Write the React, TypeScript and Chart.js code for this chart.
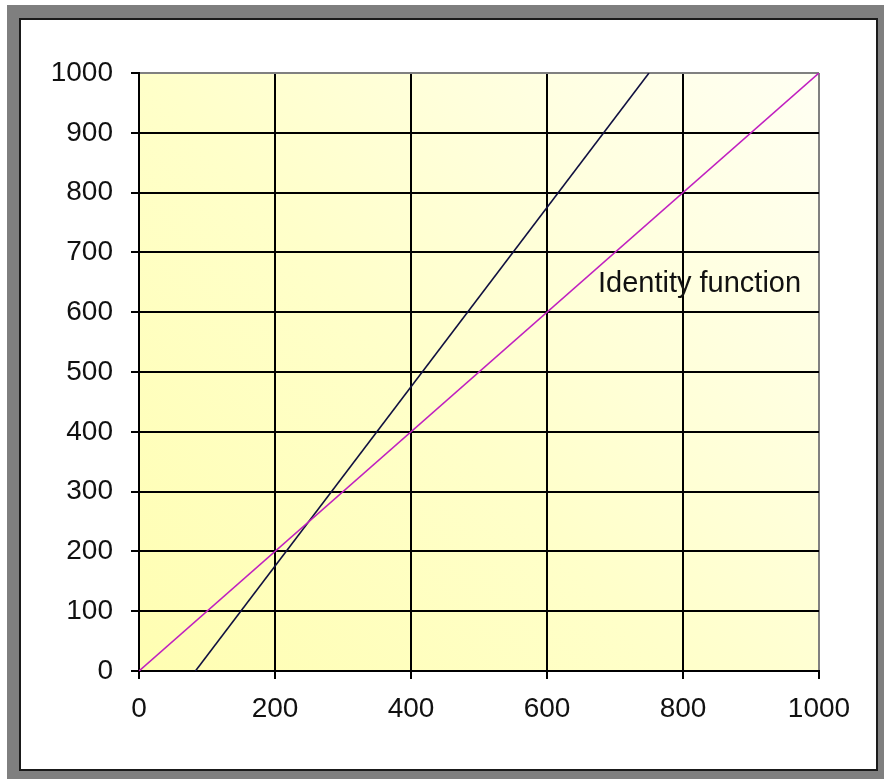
import React, { useEffect, useRef } from "react";
import { Chart, registerables } from "chart.js";

Chart.register(...registerables);

// Identity function y = x
const identityX = [0, 1000];
const identityY = [0, 1000];
// Steeper dark line
const steepX = [83, 750];
const steepY = [0, 1000];

const xTickMin = 0;
const xTickMax = 1000;
const xTickStep = 200;
const yTickMin = 0;
const yTickMax = 1000;
const yTickStep = 100;

const labelText = "Identity function";
const labelPosX = 675;
const labelPosY = 647;

const FONT = "'Liberation Sans', Arial, sans-serif";

const bgPlugin = {
  id: "plotBg",
  beforeDraw(chart: any) {
    const { ctx, chartArea } = chart;
    if (!chartArea) return;
    const { left, top, right, bottom } = chartArea;
    const g = ctx.createLinearGradient(left, bottom, right, top);
    g.addColorStop(0, "#FFFEB2");
    g.addColorStop(0.45, "#FFFFCA");
    g.addColorStop(1, "#FFFFF3");
    ctx.save();
    ctx.fillStyle = g;
    ctx.fillRect(left, top, right - left, bottom - top);
    ctx.restore();
  },
};

const labelPlugin = {
  id: "identityLabel",
  afterDatasetsDraw(chart: any) {
    const { ctx, scales } = chart;
    const x = scales.x.getPixelForValue(labelPosX);
    const y = scales.y.getPixelForValue(labelPosY);
    ctx.save();
    ctx.font = `29px ${FONT}`;
    ctx.fillStyle = "#111";
    ctx.textAlign = "left";
    ctx.textBaseline = "middle";
    ctx.fillText(labelText, x, y);
    ctx.restore();
  },
};

export default function App() {
  const ref = useRef<HTMLCanvasElement | null>(null);

  useEffect(() => {
    if (!ref.current) return;
    const chart = new Chart(ref.current, {
      type: "scatter",
      data: {
        datasets: [
          {
            label: "Identity",
            data: identityX.map((x, i) => ({ x, y: identityY[i] })),
            showLine: true,
            borderColor: "#C020C0",
            borderWidth: 1.6,
            pointRadius: 0,
            fill: false,
          },
          {
            label: "Steep",
            data: steepX.map((x, i) => ({ x, y: steepY[i] })),
            showLine: true,
            borderColor: "#101040",
            borderWidth: 1.6,
            pointRadius: 0,
            fill: false,
          },
        ],
      },
      options: {
        animation: false,
        responsive: false,
        devicePixelRatio: 1,
        layout: { padding: { left: 0, top: 73, right: 65, bottom: 0 } },
        plugins: {
          legend: { display: false },
          tooltip: { enabled: false },
        },
        scales: {
          x: {
            type: "linear",
            min: xTickMin,
            max: xTickMax,
            afterFit: (s: any) => {
              s.height = 108;
            },
            ticks: {
              stepSize: xTickStep,
              color: "#111",
              font: { family: FONT, size: 28 },
              padding: 13,
              maxRotation: 0,
              callback: (v: any) => String(v),
            },
            grid: {
              color: (c: any) => (c.tick && c.tick.value === xTickMax ? "#808080" : "#000"),
              tickColor: "#000",
              lineWidth: 2,
              tickLength: 8,
            },
            border: { color: "#000", width: 2 },
          },
          y: {
            type: "linear",
            min: yTickMin,
            max: yTickMax,
            afterFit: (s: any) => {
              s.width = 139;
            },
            ticks: {
              stepSize: yTickStep,
              color: "#111",
              font: { family: FONT, size: 28 },
              padding: 18,
              callback: (v: any) => String(v),
            },
            grid: {
              color: (c: any) => (c.tick && c.tick.value === yTickMax ? "#808080" : "#000"),
              tickColor: "#000",
              lineWidth: 2,
              tickLength: 8,
            },
            border: { color: "#000", width: 2 },
          },
        },
      },
      plugins: [bgPlugin, labelPlugin],
    });
    return () => chart.destroy();
  }, []);

  return (
    <div style={{ position: "absolute", left: 0, top: 0, width: 884, height: 779, background: "#fff", overflow: "hidden" }}>
      <div style={{ position: "absolute", left: 7, top: 5, width: 877, height: 774, background: "#7F7F7F" }} />
      <div
        style={{
          position: "absolute",
          left: 19,
          top: 18,
          width: 855,
          height: 749,
          background: "#fff",
          border: "2px solid #1a1a1a",
        }}
      />
      <canvas ref={ref} width={884} height={779} style={{ position: "absolute", left: 0, top: 0 }} />
    </div>
  );
}
